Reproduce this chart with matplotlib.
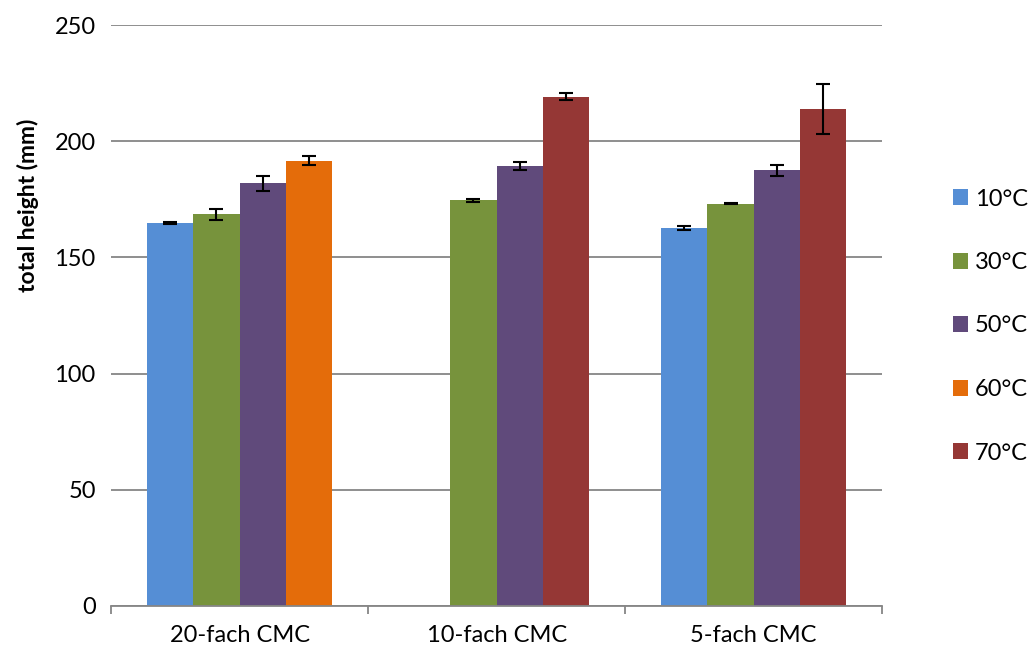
import matplotlib
matplotlib.use('Agg')
import matplotlib.pyplot as plt
from matplotlib.patches import Patch
import numpy as np

categories = ['20-fach CMC', '10-fach CMC', '5-fach CMC']
temps = ['10°C', '30°C', '50°C', '60°C', '70°C']

# mean values per temperature (None = not measured)
h_10 = [164.8, None, 162.6]
h_30 = [168.5, 174.6, 173.1]
h_50 = [181.9, 189.2, 187.5]
h_60 = [191.7, None, None]
h_70 = [None, 219.2, 213.8]

e_10 = [0.3, None, 0.8]
e_30 = [2.5, 0.6, 0.2]
e_50 = [3.3, 1.7, 2.4]
e_60 = [2.1, None, None]
e_70 = [None, 1.6, 10.9]

colors = ['#558ED5', '#77933C', '#604A7B', '#E46C0A', '#953735']
# 60°C and 70°C share the fourth bar slot
slots = [0, 1, 2, 3, 3]

plt.rcParams['font.family'] = ['Lato', 'DejaVu Sans']
plt.rcParams['font.size'] = 17

fig = plt.figure(figsize=(10.31, 6.52), dpi=100)
ax = fig.add_axes([0.1077, 0.0706, 0.748, 0.891])

x = np.arange(len(categories))
w = 0.18
heights = [h_10, h_30, h_50, h_60, h_70]
errors = [e_10, e_30, e_50, e_60, e_70]

for vals, errs, col, slot in zip(heights, errors, colors, slots):
    for i, (v, e) in enumerate(zip(vals, errs)):
        if v is None:
            continue
        xp = x[i] + (slot - 1.5) * w
        ax.bar(xp, v, w, color=col, zorder=2)
        ax.errorbar(xp, v, yerr=e, fmt='none', ecolor='black',
                    elinewidth=1.5, capsize=5, capthick=1.5, zorder=3)

ax.set_xlim(-0.5, 2.5)
ax.set_ylim(0, 250)
ax.set_yticks(range(0, 251, 50))
ax.yaxis.grid(True, color='#868686', linewidth=1.3, zorder=0)
ax.set_axisbelow(True)
ax.tick_params(axis='y', length=0, pad=11)

ax.set_xticks([-0.5, 0.5, 1.5, 2.5])
ax.set_xticklabels([])
ax.set_xticks(x, minor=True)
ax.set_xticklabels(categories, minor=True)
ax.tick_params(axis='x', which='major', length=6, color='#868686', width=1.3)
ax.tick_params(axis='x', which='minor', length=0, pad=14)

for s in ['top', 'right', 'left']:
    ax.spines[s].set_visible(False)
ax.spines['bottom'].set_color('#868686')
ax.spines['bottom'].set_linewidth(1.3)

fig.text(28 / 1031, 1 - 205 / 652, 'total height (mm)', rotation=90,
         fontweight='bold', fontsize=16.5, ha='center', va='center')

handles = [Patch(facecolor=c, label=t) for c, t in zip(colors, temps)]
fig.legend(handles=handles, loc='center left', bbox_to_anchor=(0.924, 0.5),
           frameon=False, borderpad=0, borderaxespad=0,
           handlelength=0.64, handleheight=0.64,
           handletextpad=0.3, labelspacing=1.8, fontsize=17)

plt.savefig('out.png', dpi=100)
